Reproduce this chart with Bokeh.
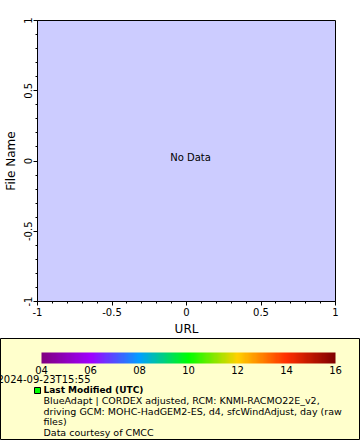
from bokeh.plotting import figure
from bokeh.layouts import column
from bokeh.models import (Range1d, FixedTicker, Label, ColorBar, LinearColorMapper,
                          GlobalInlineStyleSheet)
from bokeh.embed import file_html
from bokeh.resources import INLINE

# ---- data ----
x_ticks = [-1, -0.5, 0, 0.5, 1]
x_tick_labels = ["-1", "-0.5", "0", "0.5", "1"]
y_ticks = [-1, -0.5, 0, 0.5, 1]
y_tick_labels = ["-1", "-0.5", "0", "0.5", "1"]
x_label = "URL"
y_label = "File Name"
no_data_text = "No Data"

cbar_ticks = [4, 6, 8, 10, 12, 14, 16]
cbar_labels = ["04", "06", "08", "10", "12", "14", "16"]
cbar_colors = ["#800080", "#a000ff", "#00a0ff", "#00ff00", "#ffd200", "#ff3000", "#800000"]

date_text = "2024-09-23T15:55"
legend_title = "Last Modified (UTC)"
legend_lines = [
    "BlueAdapt | CORDEX adjusted, RCM: KNMI-RACMO22E_v2,",
    "driving GCM: MOHC-HadGEM2-ES, d4, sfcWindAdjust, day (raw",
    "files)",
    "Data courtesy of CMCC",
]
marker_color = "#00ff00"

FONT = "DejaVu Sans"

# ---- palette interpolated between colour stops ----
def hex2rgb(h):
    h = h.lstrip("#")
    return [int(h[i:i + 2], 16) for i in (0, 2, 4)]

palette = []
n = 256
lo, hi = cbar_ticks[0], cbar_ticks[-1]
for i in range(n):
    v = lo + (hi - lo) * i / (n - 1)
    k = min(int((v - lo) // 2), len(cbar_ticks) - 2)
    t = (v - cbar_ticks[k]) / (cbar_ticks[k + 1] - cbar_ticks[k])
    a, b = hex2rgb(cbar_colors[k]), hex2rgb(cbar_colors[k + 1])
    c = [round(a[j] + (b[j] - a[j]) * t) for j in range(3)]
    palette.append("#%02x%02x%02x" % tuple(c))

page_css = GlobalInlineStyleSheet(css="html, body { margin: 0 !important; padding: 0 !important; overflow: hidden; }")

# ---- main plot ----
p = figure(width=360, height=338, output_backend="svg", toolbar_location=None,
           x_range=Range1d(-1, 1), y_range=Range1d(-1, 1),
           min_border_left=37, min_border_right=25, min_border_top=20, min_border_bottom=36,
           background_fill_color="#ccccff", border_fill_color="white",
           outline_line_color="black", outline_line_width=1, frame_align=False)
p.grid.visible = False
minor = [round(-1 + 0.1 * i, 2) for i in range(21)]
p.xaxis.ticker = FixedTicker(ticks=x_ticks, minor_ticks=minor)
p.yaxis.ticker = FixedTicker(ticks=y_ticks, minor_ticks=minor)
p.xaxis.major_label_overrides = {t: l for t, l in zip(x_ticks, x_tick_labels)}
p.yaxis.major_label_overrides = {t: l for t, l in zip(y_ticks, y_tick_labels)}
p.xaxis.axis_label = x_label
p.yaxis.axis_label = y_label
for ax in (p.xaxis[0], p.yaxis[0]):
    ax.major_tick_out = 4
    ax.major_tick_in = 0
    ax.minor_tick_out = 2
    ax.minor_tick_in = 0
    ax.axis_line_color = "black"
    ax.major_tick_line_color = "black"
    ax.minor_tick_line_color = "black"
    ax.major_label_text_font = FONT
    ax.major_label_text_font_size = "10px"
    ax.major_label_text_color = "black"
    ax.major_label_standoff = 2
    ax.axis_label_text_font = FONT
    ax.axis_label_text_font_size = "12px"
    ax.axis_label_text_font_style = "normal"
    ax.axis_label_text_color = "black"
    ax.axis_label_standoff = 3
p.yaxis.major_label_orientation = "vertical"

p.add_layout(Label(x=0, y=0, text=no_data_text, text_align="center", text_baseline="middle",
                   x_offset=4, y_offset=4, text_font=FONT, text_font_size="10px",
                   text_color="black"))

# ---- legend panel ----
leg = figure(width=360, height=102, output_backend="svg", toolbar_location=None,
             x_range=Range1d(0, 360), y_range=Range1d(102, 0),
             min_border_left=0, min_border_right=0, min_border_top=0, min_border_bottom=0,
             x_axis_location=None, y_axis_location=None, frame_align=False,
             background_fill_color="#ffffcc", border_fill_color="#ffffcc",
             outline_line_color="black", outline_line_width=1)
leg.grid.visible = False

mapper = LinearColorMapper(palette=palette, low=lo, high=hi)
cb = ColorBar(color_mapper=mapper, orientation="horizontal", location=(41, 64),
              width=294, height=11, padding=0, margin=0,
              ticker=FixedTicker(ticks=cbar_ticks),
              major_label_overrides={t: l for t, l in zip(cbar_ticks, cbar_labels)},
              major_label_text_font=FONT, major_label_text_font_size="10px",
              major_label_text_color="black", label_standoff=2,
              major_tick_line_color=None, minor_tick_line_color=None,
              bar_line_color=None, border_line_color=None,
              background_fill_alpha=0)
leg.add_layout(cb)

leg.add_layout(Label(x=-3, y=41, text=date_text, text_font=FONT, text_font_size="10px",
                     text_baseline="middle", text_color="black"))
leg.scatter(x=[37], y=[52], marker="square", size=6, fill_color=marker_color,
            line_color="black", line_width=1)
leg.add_layout(Label(x=43, y=51, text=legend_title, text_font=FONT, text_font_size="9px",
                     text_font_style="bold", text_baseline="middle", text_color="black"))
line_y = [62, 72.5, 83, 93.5]
for txt, yy in zip(legend_lines, line_y):
    leg.add_layout(Label(x=43, y=yy, text=txt, text_font=FONT, text_font_size="9.5px",
                         text_baseline="middle", text_color="black"))

layout = column(p, leg, spacing=0, stylesheets=[page_css])

open("out.html", "w").write(file_html(layout, INLINE))
